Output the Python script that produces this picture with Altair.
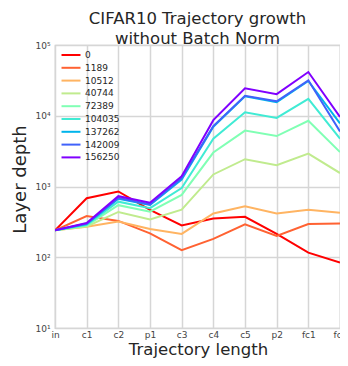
import altair as alt
import pandas as pd

layers = ["in", "c1", "c2", "p1", "c3", "c4", "c5", "p2", "fc1", "fc2"]
runs = ["0", "1189", "10512", "40744", "72389", "104035", "137262", "142009", "156250"]
colors = ["#ff0000", "#ff6232", "#ffb462", "#c0eb8e", "#80ffb4",
          "#40ebd4", "#00b4eb", "#4062fa", "#8000ff"]

s0 = [240, 683, 850, 467, 281, 354, 373, 214, 116, 84]
s1189 = [240, 382, 326, 218, 126, 182, 292, 200, 295, 299]
s10512 = [240, 269, 320, 251, 214, 416, 525, 416, 471, 425]
s40744 = [240, 272, 437, 343, 471, 1480, 2430, 2000, 2920, 1550]
s72389 = [240, 280, 545, 440, 760, 3020, 6160, 5160, 8500, 3070]
s104035 = [240, 288, 610, 495, 950, 4740, 11200, 9300, 17300, 4740]
s137262 = [240, 295, 670, 550, 1250, 7000, 18800, 15500, 31000, 7800]
s142009 = [240, 300, 690, 560, 1320, 7160, 19200, 16000, 31700, 6000]
s156250 = [240, 305, 730, 590, 1400, 8670, 24500, 20200, 41500, 9600]

series = [s0, s1189, s10512, s40744, s72389, s104035, s137262, s142009, s156250]

rows = []
for run, vals in zip(runs, series):
    for layer, v in zip(layers, vals):
        rows.append({"run": run, "layer": layer, "depth": v})
df = pd.DataFrame(rows)

font = "DejaVu Sans"

chart = alt.Chart(df).mark_line(strokeWidth=2, clip=True).encode(
    x=alt.X("layer:O", sort=layers,
            scale=alt.Scale(domain=layers, type="point", padding=0),
            axis=alt.Axis(title="Trajectory length", labelAngle=0, ticks=False,
                          labelPadding=2, labelFontSize=9, labelColor="#444444",
                          labelFont=font, titleFont=font, titleFontSize=16.5,
                          titleFontWeight="normal", titleColor="#262626",
                          titleX=143, titleY=26, titleBaseline="alphabetic",
                          titleAlign="center", domain=False,
                          grid=True, gridColor="#d6d6d6", gridWidth=1.5)),
    y=alt.Y("depth:Q",
            scale=alt.Scale(type="log", domain=[10, 100000]),
            axis=alt.Axis(title="Layer depth", values=[10, 100, 1000, 10000, 100000],
                          labelExpr="'10' + ['⁰','¹','²','³','⁴','⁵'][round(log(datum.value)/LN10)]",
                          ticks=False, labelPadding=5, labelFontSize=9,
                          labelColor="#444444", labelFont=font, titleFont=font,
                          titleFontSize=18, titleFontWeight="normal",
                          titleColor="#262626", titleX=-30, titleY=134,
                          titleAngle=270, titleAlign="center",
                          titleBaseline="alphabetic", domain=False,
                          grid=True, gridColor="#d6d6d6", gridWidth=1.5)),
    color=alt.Color("run:N", sort=runs,
                    scale=alt.Scale(domain=runs, range=colors),
                    legend=alt.Legend(title=None, orient="none", legendX=10, legendY=4,
                                      symbolType="M-2,0H2", symbolSize=90,
                                      symbolStrokeWidth=2, labelFontSize=9,
                                      labelFont=font, labelColor="#262626",
                                      labelOffset=8, rowPadding=1.8)),
).properties(
    width=285,
    height=283,
    title=alt.TitleParams(text=["CIFAR10 Trajectory growth", "without Batch Norm"],
                          fontSize=16.5, font=font, fontWeight="normal",
                          color="#262626", anchor="middle", lineHeight=19.5,
                          offset=-6),
    autosize=alt.AutoSizeParams(type="none"),
    padding={"left": 47, "top": 37, "right": 0, "bottom": 30},
).configure_view(
    stroke="#cccccc", strokeWidth=1.25
)

chart.save("out.html", embed_options={"renderer": "svg", "actions": False})
